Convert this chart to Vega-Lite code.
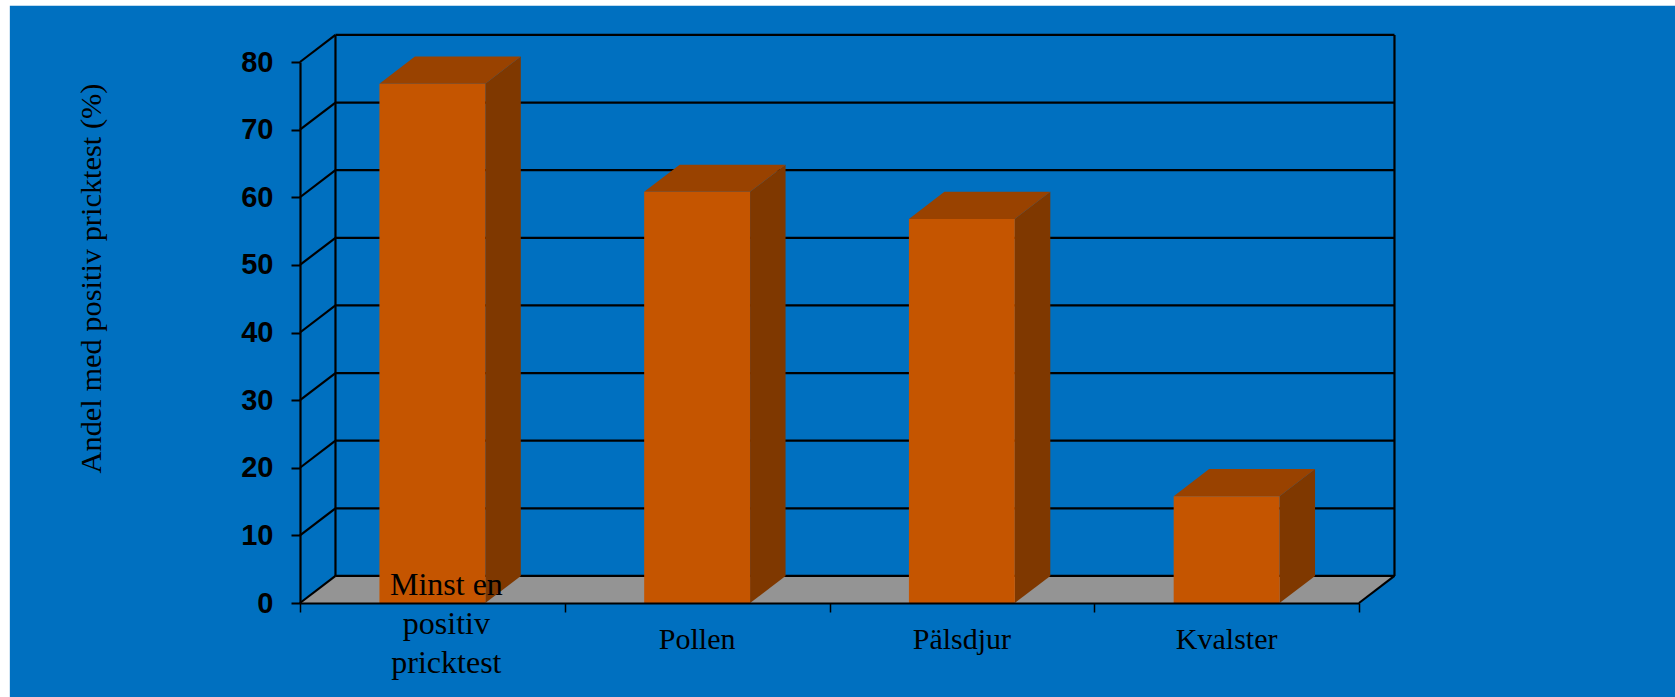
{
"$schema":"https://vega.github.io/schema/vega-lite/v6.json",
"width":1059,"height":541,"autosize":"none",
"padding":{"left":300,"top":62,"right":316,"bottom":94},
"background":"white",
"config":{"view":{"stroke":null}},
"datasets":{
 "bars":[{"kategori":"Minst en positiv pricktest","andel":76.8},{"kategori":"Pollen","andel":60.8},{"kategori":"Pälsdjur","andel":56.8},{"kategori":"Kvalster","andel":15.8}],
 "grid":[{"v":0},{"v":10},{"v":20},{"v":30},{"v":40},{"v":50},{"v":60},{"v":70},{"v":80}],
 "one":[{"golv":1}]
},
"layer":[
 {"data":{"name":"one"},"mark":{"type":"rect","color":"#0070c0"},
  "encoding":{
   "x":{"datum":-1.096,"type":"quantitative","scale":{"domain":[0,4],"nice":false,"zero":false},
     "axis":{"values":[0,1,2,3,4],"zindex":1,"grid":false,"labels":false,"title":null,"domainColor":"#000000","domainWidth":2.2,"tickColor":"#000000","tickWidth":1.5,"tickSize":9}},
   "x2":{"datum":5.2},
   "y":{"datum":88.3,"type":"quantitative","scale":{"domain":[0,80],"nice":false,"zero":false},
     "axis":{"values":[0,10,20,30,40,50,60,70,80],"zindex":1,"grid":false,"domainColor":"#000000","domainWidth":2.2,"tickColor":"#000000","tickWidth":2,"tickSize":9,"labelFont":"Liberation Sans","labelFontWeight":"bold","labelFontSize":29,"labelColor":"#000000","labelPadding":18,"title":"Andel med positiv pricktest (%)","titleFont":"Liberation Serif","titleFontSize":30.4,"titleFontWeight":"normal","titleColor":"#000000","titleX":-194,"titleY":216}},
   "y2":{"datum":-14}}},
 {"data":{"name":"one"},
  "transform":[{"calculate":"[0,1,2,3]","as":"t"},{"flatten":["t"]},
   {"calculate":"datum.t==0?0:datum.t==1?0.134:datum.t==2?4:4.134","as":"px"},
   {"calculate":"datum.t==3?4:0","as":"a"},{"calculate":"datum.t==0?0:4","as":"b"}],
  "mark":{"type":"area","color":"#949494","orient":"vertical","interpolate":"linear"},
  "encoding":{"x":{"field":"px","type":"quantitative"},"y":{"field":"a","type":"quantitative","stack":null},"y2":{"field":"b"}}},
 {"data":{"name":"grid"},"transform":[{"calculate":"datum.v+4","as":"vb"}],
  "mark":{"type":"rule","color":"#000000","strokeWidth":2.2},
  "encoding":{"x":{"datum":0.134,"type":"quantitative"},"x2":{"datum":4.134},"y":{"field":"vb","type":"quantitative"}}},
 {"data":{"name":"grid"},"transform":[{"calculate":"datum.v+4","as":"vb"}],
  "mark":{"type":"rule","color":"#000000","strokeWidth":2.2},
  "encoding":{"x":{"datum":0,"type":"quantitative"},"x2":{"datum":0.134},"y":{"field":"v","type":"quantitative"},"y2":{"field":"vb"}}},
 {"data":{"name":"one"},"mark":{"type":"rule","color":"#000000","strokeWidth":2.2},
  "encoding":{"x":{"datum":0.134,"type":"quantitative"},"y":{"datum":4,"type":"quantitative"},"y2":{"datum":84}}},
 {"data":{"name":"one"},"mark":{"type":"rule","color":"#000000","strokeWidth":2.2},
  "encoding":{"x":{"datum":4.134,"type":"quantitative"},"y":{"datum":4,"type":"quantitative"},"y2":{"datum":84}}},
 {"data":{"name":"one"},"mark":{"type":"rule","color":"#000000","strokeWidth":2.2},
  "encoding":{"x":{"datum":4,"type":"quantitative"},"x2":{"datum":4.134},"y":{"datum":0,"type":"quantitative"},"y2":{"datum":4}}},
 {"data":{"name":"bars"},
  "transform":[{"window":[{"op":"row_number","as":"n"}]},
   {"calculate":"datum.n-1+0.3","as":"xl"},{"calculate":"datum.n-1+0.7","as":"xr"},{"calculate":"datum.n-1+0.5","as":"xc"}],
  "layer":[
   {"transform":[{"calculate":"[0,1]","as":"t"},{"flatten":["t"]},
     {"calculate":"datum.xr+datum.t*0.134","as":"px"},{"calculate":"datum.t*4","as":"a"},{"calculate":"datum.andel+datum.t*4","as":"b"}],
    "mark":{"type":"area","color":"#7f3800","orient":"vertical"},
    "encoding":{"x":{"field":"px","type":"quantitative"},"y":{"field":"a","type":"quantitative","stack":null},"y2":{"field":"b"},"detail":{"field":"kategori"}}},
   {"transform":[{"calculate":"[0,1,2,3]","as":"t"},{"flatten":["t"]},
     {"calculate":"datum.t==0?datum.xl:datum.t==1?datum.xl+0.134:datum.t==2?datum.xr:datum.xr+0.134","as":"px"},
     {"calculate":"datum.t==3?datum.andel+4:datum.andel","as":"a"},{"calculate":"datum.t==0?datum.andel:datum.andel+4","as":"b"}],
    "mark":{"type":"area","color":"#994200","orient":"vertical"},
    "encoding":{"x":{"field":"px","type":"quantitative"},"y":{"field":"a","type":"quantitative","stack":null},"y2":{"field":"b"},"detail":{"field":"kategori"}}},
   {"mark":{"type":"rect","color":"#c55500"},
    "encoding":{"x":{"field":"xl","type":"quantitative"},"x2":{"field":"xr"},"y":{"field":"andel","type":"quantitative"},"y2":{"datum":0}}},
   {"transform":[{"filter":"datum.n>1"}],
    "mark":{"type":"text","font":"Liberation Serif","fontSize":30,"color":"#000000","align":"center","baseline":"middle"},
    "encoding":{"x":{"field":"xc","type":"quantitative"},"y":{"datum":-5.47,"type":"quantitative"},"text":{"field":"kategori"}}},
   {"transform":[{"filter":"datum.n==1"},{"calculate":"replace(datum.kategori,' positiv ','|positiv|')","as":"rad"}],
    "mark":{"type":"text","font":"Liberation Serif","fontSize":32,"color":"#000000","align":"center","baseline":"middle","lineBreak":"|","lineHeight":39,"dx":14},
    "encoding":{"x":{"field":"xc","type":"quantitative"},"y":{"datum":2.66,"type":"quantitative"},"text":{"field":"rad"}}}
  ]}
]
}
